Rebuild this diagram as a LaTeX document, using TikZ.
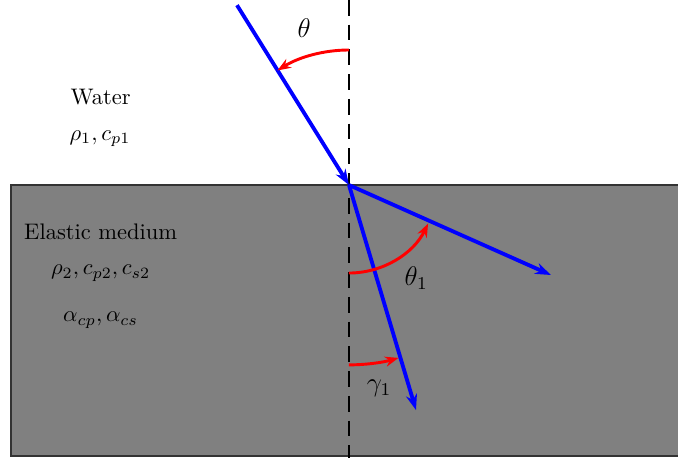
\documentclass[tikz,border=0pt]{standalone}
\usepackage{amsmath, amssymb}
\usepackage{tikz}
\usetikzlibrary{arrows.meta, calc, positioning}

\begin{document}
\begin{tikzpicture}[
    ray/.style={-{Stealth[length=7pt,width=5pt]}, blue, line width=1.7pt},
    angarc/.style={-{Stealth[length=6pt,width=4.5pt]}, red, line width=1.3pt},
    medtext/.style={font=\normalsize}
]
    \useasboundingbox (-5.453, -4.266) rectangle (5.141, 2.891);

    % 弹性介质
    \draw[fill=gray, draw=black!80, line width=0.6pt] (-5.28, 0) rectangle (5.4, -4.234);

    % 法线
    \coordinate (O) at (0, 0);
    \coordinate (ntop) at (0, 2.891);
    \coordinate (nbot) at (0, -4.266);
    \draw[thick, dash pattern=on 7pt off 4pt] (ntop) -- (nbot);

    % 射线
    \coordinate (inc) at (-1.75, 2.81);
    \coordinate (tp) at (3.156, -1.406);
    \coordinate (ts) at (1.047, -3.516);
    \draw[ray] (inc) -- (O);
    \draw[ray] (O) -- (tp);
    \draw[ray] (O) -- (ts);

    % 角度
    \draw[angarc] (0, 2.11) arc[start angle=90, end angle=122, radius=2.11];
    \draw[angarc] (0, -1.375) arc[start angle=-90, end angle=-26, radius=1.375];
    \draw[angarc] (0, -2.81) arc[start angle=-90, end angle=-74, radius=2.81];

    \node (theta) at (-0.70, 2.45) {\large $\theta$};
    \node (theta1) at (1.05, -1.45) {\large $\theta_1$};
    \node (gamma1) at (0.47, -3.17) {\large $\gamma_1$};

    % 标注
    \node[medtext] (water) at (-3.88, 1.375) {Water};
    \node[medtext] (wpar) at (-3.89, 0.72) {$\rho_1, c_{p1}$};
    \node[medtext] (elastic) at (-3.88, -0.73) {Elastic medium};
    \node[medtext] (epar) at (-3.88, -1.375) {$\rho_2, c_{p2}, c_{s2}$};
    \node[medtext] (eatt) at (-3.88, -2.11) {$\alpha_{cp}, \alpha_{cs}$};
\end{tikzpicture}
\end{document}
